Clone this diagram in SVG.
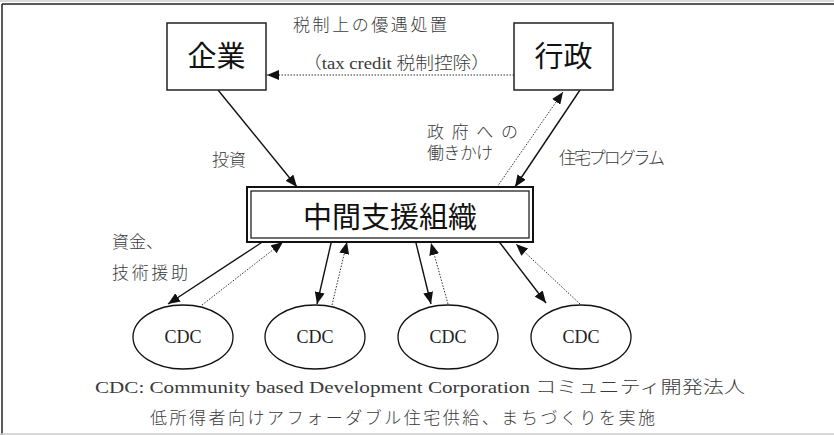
<svg xmlns="http://www.w3.org/2000/svg" width="834" height="435" viewBox="0 0 834 435">
<defs>
<marker id="ah" viewBox="0 0 12 10" refX="12" refY="5" markerWidth="12" markerHeight="10" markerUnits="userSpaceOnUse" orient="auto">
<path d="M0,0 L12,5 L0,10 Z" fill="#111"/>
</marker>
<style>
.solid{stroke:#111;stroke-width:1.4;fill:none}
.dot{stroke:#333;stroke-width:1;stroke-dasharray:1.5 1.5;fill:none}
.box{fill:#fff;stroke:#222;stroke-width:1.5}
.big{font-family:"Noto Sans CJK JP",sans-serif;font-size:29px;fill:#111;text-anchor:middle}
.lab{font-family:"Liberation Serif","Noto Sans CJK JP",serif;font-size:17px;fill:#3a3a3a;font-weight:300}
.cdc{font-family:"Liberation Serif",serif;font-size:18px;fill:#222;text-anchor:middle}
.ell{fill:#fff;stroke:#111;stroke-width:1.3}
</style>
</defs>
<rect x="0" y="0" width="834" height="435" fill="#fff"/>
<g id="frame">
<line x1="0" y1="1" x2="834" y2="1" stroke="#ccc" stroke-width="1.5"/>
<line x1="2" y1="4" x2="834" y2="4" stroke="#222" stroke-width="1.5"/>
<line x1="2" y1="4" x2="2" y2="435" stroke="#222" stroke-width="1.5"/>
<line x1="0" y1="434" x2="834" y2="434" stroke="#ccc" stroke-width="1.5"/>
</g>
<g id="connectors">
<line class="dot" x1="514" y1="75" x2="267" y2="75" marker-end="url(#ah)"/>
<line class="solid" x1="218" y1="90" x2="297" y2="187" marker-end="url(#ah)"/>
<line class="solid" x1="580" y1="90" x2="515" y2="187" marker-end="url(#ah)"/>
<line class="dot" x1="497" y1="187" x2="563" y2="92" marker-end="url(#ah)"/>
<line class="solid" x1="267" y1="239" x2="168" y2="304" marker-end="url(#ah)"/>
<line class="dot" x1="202" y1="305" x2="283" y2="242" marker-end="url(#ah)"/>
<line class="solid" x1="332" y1="239" x2="317" y2="304" marker-end="url(#ah)"/>
<line class="dot" x1="332" y1="305" x2="347" y2="242" marker-end="url(#ah)"/>
<line class="solid" x1="415" y1="239" x2="431" y2="304" marker-end="url(#ah)"/>
<line class="dot" x1="448" y1="304" x2="431" y2="243" marker-end="url(#ah)"/>
<line class="solid" x1="497" y1="239" x2="546" y2="303" marker-end="url(#ah)"/>
<line class="dot" x1="580" y1="304" x2="516" y2="244" marker-end="url(#ah)"/>
</g>
<g id="labels">
<text class="lab" x="293" y="31" textLength="154" lengthAdjust="spacing">税制上の優遇処置</text>
<text class="lab" x="303" y="69" textLength="187" lengthAdjust="spacingAndGlyphs">（tax credit  税制控除）</text>
<text class="lab" x="212" y="166">投資</text>
<text class="lab" x="427" y="138" textLength="91" lengthAdjust="spacing">政府への</text>
<text class="lab" x="427" y="159" textLength="66" lengthAdjust="spacing">働きかけ</text>
<text class="lab" x="559" y="164" textLength="106" lengthAdjust="spacing">住宅プログラム</text>
<text class="lab" x="112" y="248">資金、</text>
<text class="lab" x="112" y="279" textLength="76" lengthAdjust="spacing">技術援助</text>
<text class="lab" x="95" y="393" textLength="650" lengthAdjust="spacingAndGlyphs">CDC: Community based Development Corporation  コミュニティ開発法人</text>
<text class="lab" x="150" y="424" textLength="505" lengthAdjust="spacing">低所得者向けアフォーダブル住宅供給、まちづくりを実施</text>
</g>
<g id="kigyo">
<rect class="box" x="167" y="23" width="99" height="67"/>
<text class="big" x="216.5" y="67">企業</text>
</g>
<g id="gyosei">
<rect class="box" x="514" y="23" width="99" height="67"/>
<text class="big" x="563.5" y="67">行政</text>
</g>
<g id="chukan">
<rect x="247" y="187" width="286" height="55" fill="#fff" stroke="#111" stroke-width="2"/>
<rect x="251" y="191" width="278" height="47" fill="none" stroke="#111" stroke-width="1.2"/>
<text class="big" x="390" y="228">中間支援組織</text>
</g>
<g id="cdc1"><ellipse class="ell" cx="183" cy="337" rx="50" ry="32"/><text class="cdc" x="183" y="343">CDC</text></g>
<g id="cdc2"><ellipse class="ell" cx="315" cy="337" rx="50" ry="32"/><text class="cdc" x="315" y="343">CDC</text></g>
<g id="cdc3"><ellipse class="ell" cx="448" cy="337" rx="50" ry="32"/><text class="cdc" x="448" y="343">CDC</text></g>
<g id="cdc4"><ellipse class="ell" cx="581" cy="337" rx="50" ry="32"/><text class="cdc" x="581" y="343">CDC</text></g>
</svg>
